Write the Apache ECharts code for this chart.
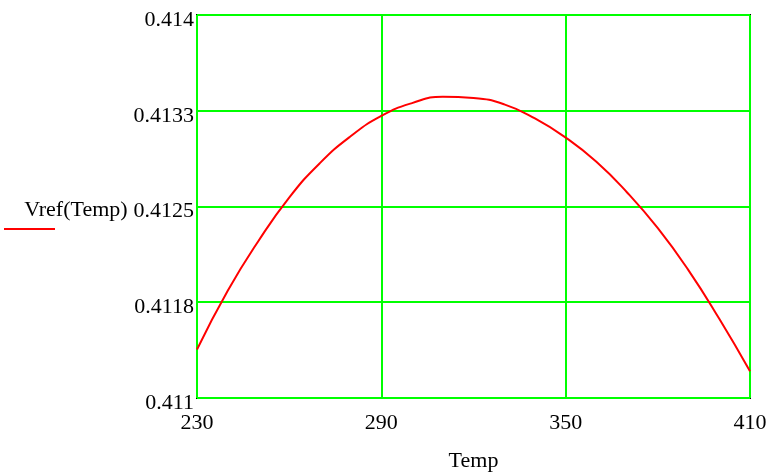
<!DOCTYPE html>
<html>
<head>
<meta charset="utf-8">
<script src="https://cdn.jsdelivr.net/npm/echarts@6/dist/echarts.min.js"></script>
<style>
    html, body { margin: 0; padding: 0; background: #fff; }
</style>
</head>
<body>
<div id="myChart" style="width: 777px; height: 472px;"></div>
<script>
    // Temp values (x) and Vref(Temp)
    var temps = [230, 240, 250, 260, 270, 280, 290, 300, 310, 320,
                 330, 340, 350, 360, 370, 380, 390, 400, 410];
    var vref = [0.41138, 0.41184, 0.41223, 0.41257, 0.41284, 0.41305, 0.41321, 0.41331, 0.41336, 0.41335,
                0.41330, 0.41319, 0.41304, 0.41285, 0.41261, 0.41233, 0.41200, 0.41162, 0.41121];
    var yTickLabels = ['0.411', '0.4118', '0.4125', '0.4133', '0.414'];
    var xTickLabels = ['230', '290', '350', '410'];

    var points = [];
    for (var i = 0; i < temps.length; i++) {
        points.push([temps[i], vref[i]]);
    }

    var font = '"Liberation Serif", "DejaVu Serif", serif';
    var myChart = echarts.init(document.getElementById('myChart'));
    myChart.setOption({
        animation: false,
        grid: {
            left: 197, right: 27, top: 15, bottom: 74,
            outerBoundsMode: 'none',
            containLabel: false,
            show: true, borderColor: '#000', borderWidth: 2
        },
        xAxis: {
            type: 'value',
            min: 230, max: 410, interval: 60,
            name: 'Temp',
            nameLocation: 'middle',
            nameGap: 52,
            nameTextStyle: { fontFamily: font, fontSize: 22, color: '#000' },
            axisLine: { show: false },
            axisTick: { show: false },
            axisLabel: {
                margin: 14,
                fontFamily: font, fontSize: 22, color: '#000',
                formatter: function (v) {
                    var k = Math.round((v - 230) / 60);
                    return xTickLabels[k];
                }
            },
            splitLine: { lineStyle: { color: '#00ff00', width: 2 } }
        },
        yAxis: {
            type: 'value',
            min: 0.411, max: 0.414, interval: 0.00075,
            name: 'Vref(Temp)',
            nameLocation: 'middle',
            nameRotate: 0,
            nameGap: 69,
            nameTextStyle: {
                fontFamily: font, fontSize: 22, color: '#000',
                verticalAlign: 'top', lineHeight: 7
            },
            axisLine: { show: false },
            axisTick: { show: false },
            axisLabel: {
                margin: 3,
                verticalAlign: 'top', lineHeight: 10,
                fontFamily: font, fontSize: 22, color: '#000',
                formatter: function (v) {
                    var k = Math.round((v - 0.411) / 0.00075);
                    return yTickLabels[k];
                }
            },
            splitLine: { lineStyle: { color: '#00ff00', width: 2 } }
        },
        graphic: [{
            type: 'rect',
            left: 4, top: 228,
            shape: { width: 51, height: 2 },
            style: { fill: '#ff0000' }
        }],
        series: [{
            name: 'Vref(Temp)',
            type: 'line',
            data: points,
            smooth: true,
            symbol: 'none',
            lineStyle: { color: '#ff0000', width: 2 }
        }]
    });
</script>
</body>
</html>
